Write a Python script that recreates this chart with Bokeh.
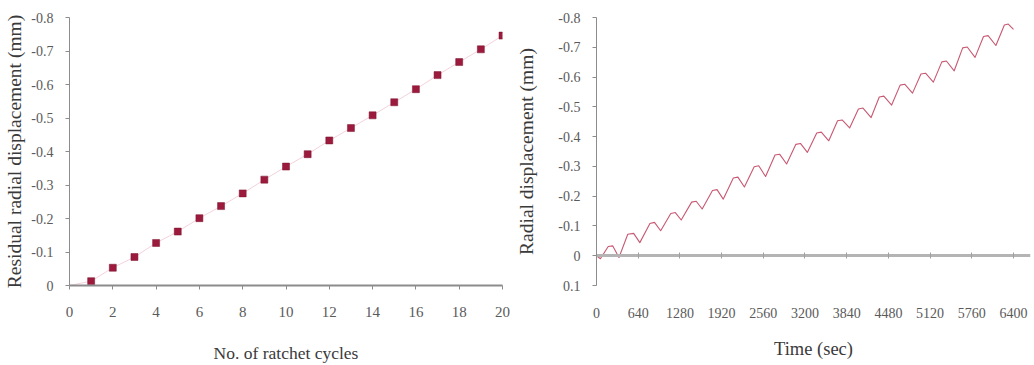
from bokeh.plotting import figure
from bokeh.layouts import row
from bokeh.models import Range1d, FixedTicker, LinearAxis
from bokeh.embed import file_html
from bokeh.resources import INLINE

# ---------------- data ----------------
cycles = list(range(1, 21))
residual = [-0.013, -0.053, -0.085, -0.127, -0.161, -0.201, -0.237, -0.275, -0.316, -0.355,
            -0.392, -0.433, -0.470, -0.508, -0.547, -0.586, -0.628, -0.667, -0.705, -0.746]
cycles_line = [0] + cycles
residual_line = [0.0] + residual
left_xticks = [0, 2, 4, 6, 8, 10, 12, 14, 16, 18, 20]
left_yticks = [0, -0.1, -0.2, -0.3, -0.4, -0.5, -0.6, -0.7, -0.8]

time_s = [0, 60, 180, 250, 345,
          480, 570, 665, 820, 890, 985, 1140, 1210, 1300, 1460, 1530, 1622,
          1780, 1850, 1945, 2100, 2170, 2270, 2420, 2490, 2595, 2740, 2810, 2918,
          3060, 3130, 3236, 3380, 3450, 3565, 3700, 3770, 3885, 4020, 4090, 4215,
          4340, 4410, 4530, 4660, 4730, 4850, 4980, 5050, 5170, 5300, 5370, 5490,
          5620, 5690, 5810, 5940, 6010, 6130, 6260, 6320, 6400]
radial = [0.0, 0.010, -0.031, -0.033, 0.006,
          -0.072, -0.075, -0.044, -0.108, -0.112, -0.084, -0.142, -0.145, -0.120,
          -0.180, -0.183, -0.157, -0.219, -0.222, -0.190, -0.261, -0.264, -0.231,
          -0.299, -0.302, -0.266, -0.338, -0.341, -0.308, -0.374, -0.377, -0.347,
          -0.412, -0.415, -0.386, -0.453, -0.456, -0.429, -0.493, -0.496, -0.464,
          -0.533, -0.536, -0.506, -0.573, -0.576, -0.546, -0.610, -0.613, -0.583,
          -0.651, -0.654, -0.621, -0.698, -0.701, -0.666, -0.736, -0.739, -0.706,
          -0.775, -0.778, -0.760]
right_xticks = [0, 640, 1280, 1920, 2560, 3200, 3840, 4480, 5120, 5760, 6400]
right_yticks = [0.1, 0, -0.1, -0.2, -0.3, -0.4, -0.5, -0.6, -0.7, -0.8]

SERIF = "Liberation Serif"
TICK_COLOR = "#5a5a5a"
TITLE_COLOR = "#3a3a3a"
AXIS_COLOR = "#8c8c8c"


def tick_labels(ticks):
    # plain hyphen-minus labels, "0" for zero
    return {t: ("0" if t == 0 else f"{t:.1f}") for t in ticks}


def style_common(p):
    p.outline_line_color = None
    p.xgrid.visible = False
    p.ygrid.visible = False
    p.background_fill_color = "white"


# ---------------- left chart ----------------
p1 = figure(width=510, height=365, output_backend="svg", toolbar_location=None,
            x_range=Range1d(0, 20), y_range=Range1d(0, -0.8),
            min_border_left=69, min_border_right=8, min_border_top=17, min_border_bottom=80)
style_common(p1)
p1.line(cycles_line, residual_line, line_color="#f4d2da", line_width=1)
p1.scatter(cycles, residual, marker="square", size=7, fill_color="#9c1a3c",
           line_color="#7a1530", line_width=0.5)

p1.xaxis.ticker = FixedTicker(ticks=left_xticks)
p1.yaxis.ticker = FixedTicker(ticks=left_yticks)
p1.yaxis.major_label_overrides = tick_labels(left_yticks)
p1.xaxis.axis_label = "No. of ratchet cycles"
p1.yaxis.axis_label = "Residual radial displacement (mm)"
for ax in (p1.xaxis[0], p1.yaxis[0]):
    ax.axis_line_color = AXIS_COLOR
    ax.major_tick_line_color = AXIS_COLOR
    ax.minor_tick_line_color = None
    ax.major_tick_in = 0
    ax.major_tick_out = 4
    ax.major_label_text_font = SERIF
    ax.major_label_text_font_size = "14px"
    ax.major_label_text_color = TICK_COLOR
    ax.axis_label_text_font = SERIF
    ax.axis_label_text_font_style = "normal"
    ax.axis_label_text_color = TITLE_COLOR
p1.xaxis.axis_line_width = 2
p1.xaxis.major_label_text_font_size = "15px"
p1.xaxis.major_label_standoff = 17
p1.xaxis.axis_label_standoff = 23
p1.xaxis.axis_label_text_font_size = "17.5px"
p1.yaxis.major_label_standoff = 12
p1.yaxis.axis_label_standoff = 3
p1.yaxis.axis_label_text_font_size = "19.5px"

# ---------------- right chart ----------------
p2 = figure(width=524, height=365, output_backend="svg", toolbar_location=None,
            x_range=Range1d(0, 6661), y_range=Range1d(0.1, -0.8),
            min_border_left=86, min_border_right=4, min_border_top=15, min_border_bottom=78)
style_common(p2)

# zero line axis with ticks (no labels)
zx = p2.xaxis[0]
zx.fixed_location = 0
zx.ticker = FixedTicker(ticks=right_xticks)
zx.axis_line_color = "#b4b4b4"
zx.axis_line_width = 3
zx.major_tick_line_color = "#a0a0a0"
zx.major_tick_in = 3
zx.major_tick_out = 3
zx.minor_tick_line_color = None
zx.major_label_text_alpha = 0
zx.major_label_text_font_size = "1px"

# label axis at bottom
lab = LinearAxis(ticker=FixedTicker(ticks=right_xticks))
lab.axis_line_color = None
lab.major_tick_line_color = None
lab.minor_tick_line_color = None
lab.major_tick_out = 0
lab.major_tick_in = 0
lab.major_label_standoff = 22
lab.major_label_text_font = SERIF
lab.major_label_text_font_size = "14px"
lab.major_label_text_color = TICK_COLOR
lab.axis_label = "Time (sec)"
lab.axis_label_text_font = SERIF
lab.axis_label_text_font_style = "normal"
lab.axis_label_text_font_size = "18.5px"
lab.axis_label_text_color = TITLE_COLOR
lab.axis_label_standoff = 18
p2.add_layout(lab, "below")

ya = p2.yaxis[0]
ya.ticker = FixedTicker(ticks=right_yticks)
ya.major_label_overrides = tick_labels(right_yticks)
ya.axis_line_color = AXIS_COLOR
ya.major_tick_line_color = AXIS_COLOR
ya.minor_tick_line_color = None
ya.major_tick_in = 0
ya.major_tick_out = 4
ya.major_label_standoff = 12
ya.major_label_text_font = SERIF
ya.major_label_text_font_size = "14px"
ya.major_label_text_color = TICK_COLOR
ya.axis_label = "Radial displacement (mm)"
ya.axis_label_text_font = SERIF
ya.axis_label_text_font_style = "normal"
ya.axis_label_text_font_size = "19.5px"
ya.axis_label_text_color = TITLE_COLOR
ya.axis_label_standoff = 18

p2.line(time_s, radial, line_color="#c85872", line_width=1.1, line_join="round")

layout = row(p1, p2)
open("out.html", "w").write(file_html(layout, INLINE))
